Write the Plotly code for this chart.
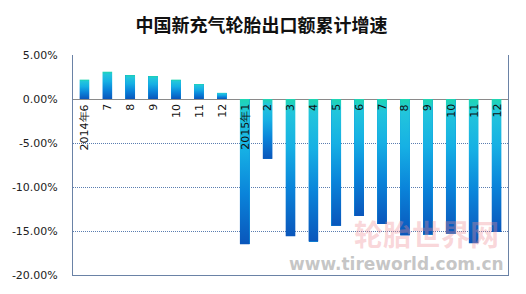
import plotly.graph_objects as go

categories = ["2014年6", "7", "8", "9", "10", "11", "12",
              "2015年1", "2", "3", "4", "5", "6", "7", "8", "9", "10", "11", "12"]
growth = [2.2, 3.1, 2.7, 2.6, 2.2, 1.7, 0.7,
          -16.5, -6.8, -15.6, -16.2, -14.4, -13.3, -14.2, -15.5, -15.4, -15.3, -16.4, -15.1]
y_ticks = [-20, -15, -10, -5, 0, 5]
y_tick_labels = [f"{t:.2f}%" for t in y_ticks]

title = "中国新充气轮胎出口额累计增速"
bar_w = 0.42
gradient = [[0.0, "#0a56bb"], [0.35, "#0a84da"], [0.65, "#16b0e4"],
            [0.9, "#22c5dc"], [1.0, "#1ed6b2"]]

xs = list(range(len(categories)))
fig = go.Figure()
fig.add_trace(go.Bar(x=xs, y=growth, width=bar_w, marker=dict(color="#129ee2", line_width=0),
                     hoverinfo="skip", showlegend=False))
for i, v in zip(xs, growth):
    fig.add_trace(go.Scatter(
        x=[i - bar_w / 2, i - bar_w / 2, i + bar_w / 2, i + bar_w / 2, i - bar_w / 2],
        y=[0, v, v, 0, 0], mode="lines", line=dict(width=0), fill="toself",
        fillgradient=dict(type="vertical", colorscale=gradient),
        hoverinfo="skip", showlegend=False))

for i, c in zip(xs, categories):
    fig.add_annotation(x=i, y=0, text=c, showarrow=False, textangle=-90,
                       xanchor="center", yanchor="top", yshift=-3,
                       font=dict(family="DejaVu Sans", size=11, color="#111111"))

# watermark
fig.add_annotation(xref="paper", yref="paper", x=0.985, y=0.19, text="<b>轮胎世界网</b>", showarrow=False,
                   xanchor="right", yanchor="middle",
                   font=dict(family="Noto Sans CJK SC", size=29, color="rgba(240,140,150,0.35)"))
fig.add_annotation(xref="paper", yref="paper", x=0.995, y=0.05, text="<b>www.tireworld.com.cn</b>",
                   showarrow=False, xanchor="right", yanchor="middle",
                   font=dict(family="DejaVu Sans", size=17, color="rgba(160,160,160,0.6)"))

fig.update_layout(
    width=526, height=294,
    margin=dict(l=69, r=18, t=55, b=18),
    paper_bgcolor="white", plot_bgcolor="white",
    title=dict(text="<b>" + title + "</b>", x=0.497, xref="container", xanchor="center",
               y=1 - 25.5 / 294, yref="container", yanchor="middle",
               font=dict(family="Noto Sans CJK SC", size=18, color="#111111")),
    xaxis=dict(range=[-0.5, len(categories) - 0.5], showticklabels=False, showgrid=False,
               zeroline=False, showline=True, linecolor="#6a82a6", linewidth=1, ticks=""),
    yaxis=dict(range=[-20, 5], tickvals=y_ticks, ticktext=y_tick_labels,
               showgrid=True, gridcolor="#5a7db0", griddash="1px,1px", gridwidth=1,
               zeroline=True, zerolinecolor="#8a8a8a", zerolinewidth=1,
               showline=True, linecolor="#6a82a6", linewidth=1, mirror=True,
               ticks="", ticklabelstandoff=12,
               tickfont=dict(family="DejaVu Sans", size=11, color="#222222")),
    bargap=0,
)
fig.write_html("out.html")
